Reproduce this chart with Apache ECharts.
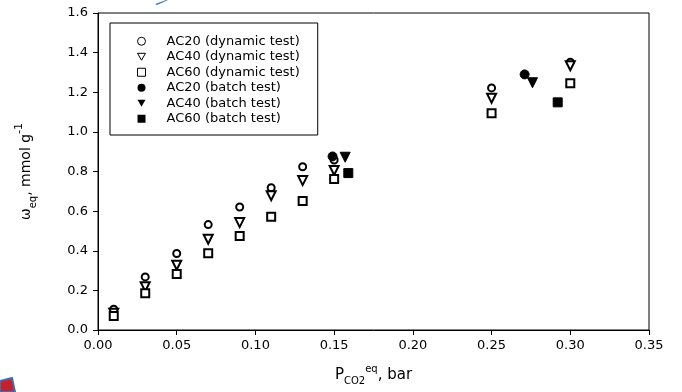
<!DOCTYPE html>
<html>
<head>
<meta charset="utf-8">
<script src="https://cdn.jsdelivr.net/npm/echarts@6/dist/echarts.min.js"></script>
<style>
  html, body { margin: 0; padding: 0; background: #fff; }
  #chart { width: 682px; height: 392px; }
</style>
</head>
<body>
<div id="chart"></div>
<script>
// CO2 partial pressure (bar) of the dynamic runs
const pDynamic = [0.01, 0.03, 0.05, 0.07, 0.09, 0.11, 0.13, 0.15, 0.25, 0.30];
// equilibrium uptake (mmol/g), dynamic tests
const ac20Dynamic = [0.105, 0.268, 0.386, 0.532, 0.621, 0.718, 0.824, 0.858, 1.222, 1.352];
const ac40Dynamic = [0.085, 0.218, 0.327, 0.458, 0.542, 0.678, 0.754, 0.805, 1.170, 1.334];
const ac60Dynamic = [0.071, 0.185, 0.283, 0.387, 0.474, 0.572, 0.651, 0.762, 1.094, 1.245];
// batch tests: pressure and uptake
const pAc20Batch = [0.149, 0.271];
const ac20Batch = [0.876, 1.290];
const pAc40Batch = [0.157, 0.276];
const ac40Batch = [0.872, 1.248];
const pAc60Batch = [0.159, 0.292];
const ac60Batch = [0.792, 1.149];

const xTicks = { min: 0, max: 0.35, interval: 0.05 };
const yTicks = { min: 0, max: 1.6, interval: 0.2 };

const names = [
  'AC20 (dynamic test)', 'AC40 (dynamic test)', 'AC60 (dynamic test)',
  'AC20 (batch test)', 'AC40 (batch test)', 'AC60 (batch test)'
];

const pair = (xs, ys) => xs.map((x, i) => [x, ys[i]]);
const FONT = 'DejaVu Sans';
// downward-pointing triangle used for the AC40 legend entries
const DOWN_TRI = 'path://M0,0L10,0L5,8.66Z';

function scatter(name, data, symbol, size, rotate) {
  return {
    name: name,
    type: 'scatter',
    data: data,
    symbol: symbol,
    symbolSize: size,
    symbolRotate: rotate || 0,
    itemStyle: { color: '#000', borderColor: '#000', borderWidth: 1, opacity: 1 },
    emphasis: { disabled: true },
    z: 3
  };
}

const open = { color: '#fff', borderColor: '#000', borderWidth: 1, opacity: 1 };
const solid = { color: '#000', borderColor: '#000', borderWidth: 0, opacity: 1 };

const chart = echarts.init(document.getElementById('chart'), null, { renderer: 'canvas' });

chart.setOption({
  animation: false,
  backgroundColor: '#fff',
  grid: {
    left: 98, right: 33, top: 13, bottom: 62,
    show: true, borderColor: '#000', borderWidth: 1, backgroundColor: 'transparent'
  },
  legend: {
    orient: 'vertical',
    left: 110, top: 23,
    padding: [11, 18, 9, 27],
    itemGap: 1,
    itemWidth: 8, itemHeight: 8,
    borderColor: '#000', borderWidth: 1,
    selectedMode: false,
    data: [
      { name: names[0], icon: 'circle', itemStyle: open },
      { name: names[1], icon: DOWN_TRI, itemStyle: open },
      { name: names[2], icon: 'rect', itemStyle: open },
      { name: names[3], icon: 'circle', itemStyle: solid },
      { name: names[4], icon: DOWN_TRI, itemStyle: solid },
      { name: names[5], icon: 'rect', itemStyle: solid }
    ],
    textStyle: { fontFamily: FONT, fontSize: 13, color: '#000', lineHeight: 14.5, padding: [0, 0, 0, 16] }
  },
  xAxis: {
    type: 'value',
    min: xTicks.min, max: xTicks.max, interval: xTicks.interval,
    name: '{m|P}{sub|CO2}{sup|eq}{m|, bar}',
    nameLocation: 'middle',
    nameGap: 34,
    nameTextStyle: {
      rich: {
        m: { fontFamily: FONT, fontSize: 15, color: '#000', lineHeight: 22, verticalAlign: 'middle' },
        sub: { fontFamily: FONT, fontSize: 10, color: '#000', lineHeight: 22, verticalAlign: 'bottom' },
        sup: { fontFamily: FONT, fontSize: 10, color: '#000', lineHeight: 22, verticalAlign: 'top' }
      }
    },
    axisLine: { show: true, onZero: false, lineStyle: { color: '#000', width: 1 } },
    axisTick: { show: true, inside: false, length: 5, lineStyle: { color: '#000' } },
    axisLabel: {
      margin: 9, color: '#000', fontFamily: FONT, fontSize: 13,
      formatter: v => v.toFixed(2)
    },
    splitLine: { show: false }
  },
  yAxis: {
    type: 'value',
    min: yTicks.min, max: yTicks.max, interval: yTicks.interval,
    name: '{m|ω}{sub|eq}{m|, mmol g}{sup|-1}',
    nameLocation: 'middle',
    nameGap: 60,
    nameRotate: 90,
    nameTextStyle: {
      rich: {
        m: { fontFamily: FONT, fontSize: 14, color: '#000', lineHeight: 24, verticalAlign: 'middle' },
        sub: { fontFamily: FONT, fontSize: 10, color: '#000', lineHeight: 24, verticalAlign: 'bottom' },
        sup: { fontFamily: FONT, fontSize: 11, color: '#000', lineHeight: 24, verticalAlign: 'top' }
      }
    },
    axisLine: { show: true, onZero: false, lineStyle: { color: '#000', width: 1 } },
    axisTick: { show: true, inside: false, length: 5, lineStyle: { color: '#000' } },
    axisLabel: {
      margin: 10, color: '#000', fontFamily: FONT, fontSize: 13,
      formatter: v => v.toFixed(1)
    },
    splitLine: { show: false }
  },
  series: [
    scatter(names[0], pair(pDynamic, ac20Dynamic), 'emptyCircle', 7),
    scatter(names[1], pair(pDynamic, ac40Dynamic), 'emptyTriangle', 9, 180),
    scatter(names[2], pair(pDynamic, ac60Dynamic), 'emptyRect', 8),
    scatter(names[3], pair(pAc20Batch, ac20Batch), 'circle', 9),
    scatter(names[4], pair(pAc40Batch, ac40Batch), 'triangle', 10, 180),
    scatter(names[5], pair(pAc60Batch, ac60Batch), 'rect', 9)
  ],
  graphic: [
    // stray blue stroke at the top edge
    { type: 'polygon', shape: { points: [[155, 4], [166, 0], [168, 0], [157, 5]] },
      style: { fill: '#3b7bbf' }, silent: true },
    // corner icon at the bottom left
    { type: 'polygon', shape: { points: [[0, 381], [12, 378], [15, 392], [0, 392]] },
      style: { fill: '#c8202a', stroke: '#3a6fb0', lineWidth: 2 }, silent: true }
  ]
});
</script>
</body>
</html>
